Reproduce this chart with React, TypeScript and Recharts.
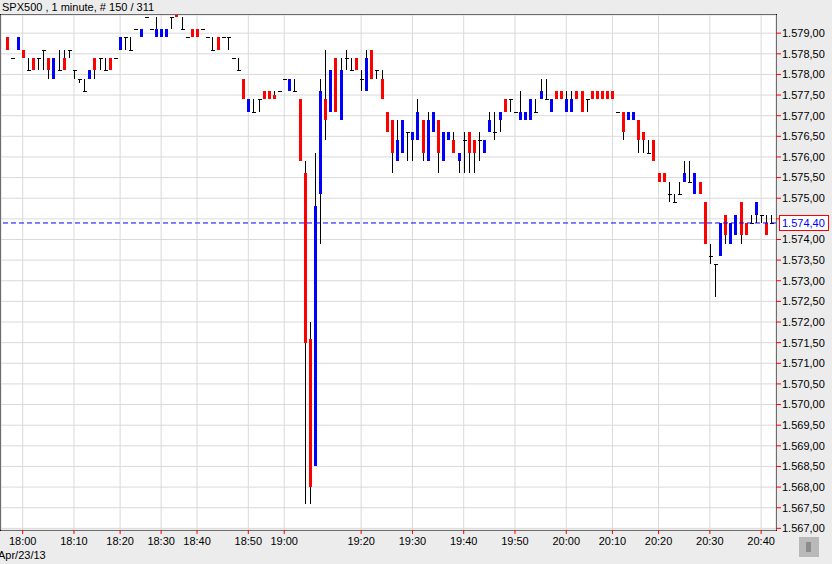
import { Bar, CartesianGrid, ComposedChart, ReferenceLine, XAxis, YAxis } from "recharts";

const FONT = "'Liberation Sans', Arial, sans-serif";

const title = "SPX500 , 1 minute, # 150 / 311";
const dateLabel = "Apr/23/13";
const lastPrice = 1574.4;

// one-minute bars, left to right
const opens = [
  1578.9, 1578.4, 1578.6, 1578.6, 1578.1, 1578.4, 1578.4, 1578.6, 1578.4, 1577.9,
  1578.1, 1578.4, 1578.6, 1578.1, 1577.9, 1577.6, 1577.9, 1578.4, 1578.4, 1578.1,
  1578.4, 1578.4, 1578.6, 1578.9, 1578.6, 1579.1, 1578.9, 1579.4, 1579.1, 1578.9,
  1578.9, 1578.9, 1579.4, 1579.5, 1579.1, 1578.9, 1579.1, 1579.1, 1579.1, 1578.9,
  1578.6, 1578.9, 1578.9, 1578.9, 1578.4, 1578.1, 1577.9, 1577.1, 1577.1, 1577.4,
  1577.6, 1577.6, 1577.5, 1577.6, 1577.9, 1577.6, 1577.6, 1577.4, 1575.6, 1571.6,
  1568.5, 1575.1, 1577.4, 1577.1, 1578.4, 1576.9, 1578.4, 1578.1, 1578.4, 1577.9,
  1577.6, 1578.6, 1578.1, 1577.9, 1577.1, 1576.9, 1575.9, 1576.1, 1576.6, 1576.4,
  1576.4, 1576.9, 1575.9, 1576.6, 1576.9, 1575.9, 1576.4, 1576.4, 1575.9, 1576.4,
  1576.6, 1576.4, 1576.4, 1576.1, 1576.6, 1576.6, 1576.9, 1577.4, 1577.4, 1577.1,
  1576.9, 1576.9, 1576.9, 1577.1, 1577.4, 1577.4, 1577.1, 1577.6, 1577.6, 1577.1,
  1577.1, 1577.6, 1577.6, 1577.4, 1577.6, 1577.6, 1577.6, 1577.6, 1577.6, 1577.1,
  1577.1, 1576.9, 1576.9, 1576.9, 1576.6, 1576.1, 1576.4, 1575.6, 1575.6, 1575.1,
  1574.9, 1575.1, 1575.4, 1575.4, 1575.1, 1575.4, 1574.9, 1573.6, 1573.4, 1573.6,
  1574.6, 1573.9, 1574.1, 1574.9, 1574.4, 1574.4, 1574.6, 1574.6, 1574.4, 1574.4,
];
const highs = [
  1578.9, 1578.4, 1578.9, 1578.6, 1578.4, 1578.4, 1578.4, 1578.6, 1578.4, 1578.4,
  1578.6, 1578.6, 1578.6, 1578.1, 1577.9, 1577.9, 1578.1, 1578.4, 1578.4, 1578.4,
  1578.4, 1578.4, 1578.9, 1578.9, 1578.9, 1579.1, 1579.1, 1579.4, 1579.1, 1579.4,
  1579.1, 1579.1, 1579.4, 1579.5, 1579.4, 1578.9, 1579.1, 1579.1, 1579.1, 1578.9,
  1578.9, 1578.9, 1578.9, 1578.9, 1578.4, 1578.4, 1577.9, 1577.4, 1577.4, 1577.4,
  1577.6, 1577.6, 1577.6, 1577.6, 1577.9, 1577.9, 1577.9, 1577.4, 1575.9, 1572.0,
  1576.1, 1577.9, 1578.6, 1578.1, 1578.4, 1578.4, 1578.6, 1578.4, 1578.4, 1578.1,
  1578.6, 1578.6, 1578.1, 1578.1, 1577.1, 1576.9, 1576.9, 1576.9, 1576.6, 1576.6,
  1577.4, 1576.9, 1577.1, 1577.1, 1576.9, 1576.6, 1576.6, 1576.6, 1576.1, 1576.6,
  1576.6, 1576.4, 1576.6, 1576.4, 1577.1, 1577.1, 1577.1, 1577.4, 1577.4, 1577.1,
  1577.6, 1577.1, 1577.4, 1577.4, 1577.9, 1577.9, 1577.4, 1577.6, 1577.6, 1577.6,
  1577.6, 1577.6, 1577.6, 1577.4, 1577.6, 1577.6, 1577.6, 1577.6, 1577.6, 1577.1,
  1577.1, 1577.1, 1577.1, 1576.9, 1576.6, 1576.4, 1576.4, 1575.6, 1575.6, 1575.4,
  1575.1, 1575.4, 1575.9, 1575.9, 1575.6, 1575.4, 1574.9, 1573.9, 1573.4, 1574.4,
  1574.6, 1574.4, 1574.6, 1574.9, 1574.4, 1574.6, 1574.9, 1574.6, 1574.6, 1574.6,
];
const lows = [
  1578.6, 1578.4, 1578.6, 1578.4, 1578.1, 1578.1, 1578.1, 1578.1, 1577.9, 1577.9,
  1578.1, 1578.1, 1578.4, 1577.9, 1577.8, 1577.6, 1577.9, 1577.9, 1578.1, 1578.1,
  1578.1, 1578.4, 1578.6, 1578.6, 1578.6, 1579.1, 1578.9, 1579.4, 1579.1, 1578.9,
  1578.9, 1578.9, 1579.1, 1579.4, 1579.1, 1578.9, 1578.9, 1578.9, 1579.1, 1578.9,
  1578.6, 1578.6, 1578.9, 1578.6, 1578.4, 1578.1, 1577.4, 1577.1, 1577.1, 1577.1,
  1577.4, 1577.4, 1577.4, 1577.6, 1577.9, 1577.6, 1577.6, 1575.9, 1567.6, 1567.6,
  1568.5, 1573.9, 1576.4, 1577.1, 1577.1, 1576.9, 1578.1, 1578.1, 1578.1, 1577.6,
  1577.6, 1577.9, 1577.9, 1577.4, 1576.6, 1575.6, 1575.9, 1576.1, 1575.9, 1575.9,
  1576.4, 1575.9, 1575.9, 1576.6, 1575.6, 1575.9, 1576.4, 1576.1, 1575.6, 1575.6,
  1575.6, 1575.6, 1575.9, 1576.1, 1576.6, 1576.4, 1576.6, 1577.1, 1577.1, 1577.1,
  1576.9, 1576.9, 1576.9, 1577.1, 1577.4, 1577.4, 1577.1, 1577.4, 1577.4, 1577.1,
  1577.1, 1577.4, 1577.1, 1577.1, 1577.4, 1577.4, 1577.4, 1577.4, 1577.4, 1577.1,
  1576.4, 1576.9, 1576.9, 1576.1, 1576.1, 1576.1, 1575.9, 1575.4, 1575.4, 1574.9,
  1574.9, 1575.1, 1575.4, 1575.4, 1575.1, 1575.1, 1573.9, 1573.4, 1572.6, 1573.6,
  1573.9, 1573.9, 1574.1, 1573.9, 1574.1, 1574.4, 1574.4, 1574.4, 1574.1, 1574.4,
];
const closes = [
  1578.6, 1578.4, 1578.9, 1578.4, 1578.1, 1578.1, 1578.4, 1578.6, 1578.1, 1578.4,
  1578.1, 1578.1, 1578.6, 1578.1, 1577.9, 1577.6, 1578.1, 1578.1, 1578.4, 1578.1,
  1578.1, 1578.4, 1578.9, 1578.9, 1578.6, 1579.1, 1579.1, 1579.4, 1579.1, 1579.1,
  1579.1, 1579.1, 1579.4, 1579.4, 1579.1, 1578.9, 1578.9, 1578.9, 1579.1, 1578.9,
  1578.6, 1578.6, 1578.9, 1578.9, 1578.4, 1578.1, 1577.4, 1577.4, 1577.1, 1577.4,
  1577.4, 1577.4, 1577.4, 1577.6, 1577.9, 1577.9, 1577.6, 1575.9, 1571.5, 1568.0,
  1574.8, 1577.6, 1576.9, 1578.1, 1577.1, 1578.1, 1578.4, 1578.1, 1578.1, 1577.9,
  1578.4, 1577.9, 1578.1, 1577.4, 1576.6, 1576.1, 1576.4, 1576.9, 1576.6, 1576.6,
  1577.1, 1576.1, 1576.9, 1577.1, 1576.1, 1576.6, 1576.6, 1576.1, 1576.1, 1576.4,
  1576.1, 1576.1, 1576.4, 1576.4, 1576.9, 1576.6, 1577.1, 1577.1, 1577.4, 1577.1,
  1577.1, 1577.1, 1577.4, 1577.1, 1577.6, 1577.4, 1577.4, 1577.4, 1577.4, 1577.4,
  1577.4, 1577.4, 1577.1, 1577.4, 1577.4, 1577.4, 1577.4, 1577.4, 1577.4, 1577.1,
  1576.6, 1577.1, 1577.1, 1576.4, 1576.4, 1576.1, 1575.9, 1575.4, 1575.4, 1575.1,
  1574.9, 1575.1, 1575.6, 1575.4, 1575.6, 1575.1, 1573.9, 1573.6, 1573.4, 1574.4,
  1574.1, 1574.4, 1574.6, 1574.1, 1574.1, 1574.4, 1574.9, 1574.6, 1574.1, 1574.4,
];

// bar index of each labelled minute (gaps in trading make these uneven)
const tickBars = [3, 13, 22, 30, 37, 47, 54, 69, 79, 89, 99, 109, 118, 127, 137, 147];
const tickTimes = [
  "18:00", "18:10", "18:20", "18:30", "18:40", "18:50", "19:00", "19:20",
  "19:30", "19:40", "19:50", "20:00", "20:10", "20:20", "20:30", "20:40",
];

const priceTicks = [
  1567, 1567.5, 1568, 1568.5, 1569, 1569.5, 1570, 1570.5, 1571, 1571.5, 1572, 1572.5,
  1573, 1573.5, 1574, 1574.5, 1575, 1575.5, 1576, 1576.5, 1577, 1577.5, 1578, 1578.5, 1579,
];

const X_DOMAIN: [number, number] = [-1.23, 149.9];
const Y_DOMAIN: [number, number] = [1566.96, 1579.44];

const bars = opens.map((o, i) => ({
  i,
  o,
  h: highs[i],
  l: lows[i],
  c: closes[i],
  range: [lows[i], highs[i]],
}));

const fmtPrice = (v: number) => {
  const [whole, dec] = v.toFixed(2).split(".");
  return whole.replace(/\B(?=(\d{3})+(?!\d))/g, ".") + "," + dec;
};

const fmtTime = (v: number) => {
  const k = tickBars.indexOf(v);
  return k >= 0 ? tickTimes[k] : "";
};

function Candle(props: any) {
  const { x, y, width, height, payload } = props;
  if (x == null || y == null) return null;
  const { o, h, l, c } = payload;
  const cx = Math.round(x + width / 2);
  const py = (v: number) => (h === l ? y : y + ((h - v) / (h - l)) * height);
  const top = py(Math.max(o, c));
  const bot = py(Math.min(o, c));
  const color = c > o ? "#0000ff" : "#ff0000";
  return (
    <g shapeRendering="crispEdges">
      {h !== l && (
        <line x1={cx + 0.5} x2={cx + 0.5} y1={py(h)} y2={py(l)} stroke="#000" strokeWidth={1} />
      )}
      {o === c ? (
        <line x1={cx - 1.5} x2={cx + 2.5} y1={Math.round(top) + 0.5} y2={Math.round(top) + 0.5} stroke="#000" />
      ) : (
        <rect x={cx - 1} y={top} width={3} height={Math.max(1, bot - top)} fill={color} />
      )}
    </g>
  );
}

function PriceTag(props: any) {
  const { viewBox } = props;
  if (!viewBox) return null;
  const right = viewBox.x + viewBox.width;
  const yy = Math.round(viewBox.y);
  return (
    <g>
      <rect x={right + 3.5} y={yy - 7.5} width={49} height={15} fill="#fff" stroke="#ff0000" shapeRendering="crispEdges" />
      <text x={right + 6} y={yy} dy="0.36em" fill="#0000ff" fontSize={11} fontFamily={FONT}>
        {fmtPrice(lastPrice)}
      </text>
    </g>
  );
}

export default function App() {
  return (
    <div
      style={{
        position: "absolute",
        left: 0,
        top: 0,
        width: 832,
        height: 564,
        background: "#ececec",
        overflow: "hidden",
        fontFamily: FONT,
      }}
    >
      <div style={{ position: "absolute", left: 2, top: 0, fontSize: 11, lineHeight: "14px", color: "#000" }}>
        {title}
      </div>
      <div
        style={{
          position: "absolute",
          left: 0,
          top: 14,
          width: 777,
          height: 517,
          boxSizing: "border-box",
          border: "1px solid #000",
          background: "#fff",
        }}
      />
      <div style={{ position: "absolute", left: 0, top: 0 }}>
        <ComposedChart width={832} height={564} data={bars} margin={{ top: 15, right: 0, bottom: 0, left: 1 }}>
          <CartesianGrid stroke="#d9d9d9" />
          <XAxis
            type="number"
            dataKey="i"
            domain={X_DOMAIN}
            allowDataOverflow
            ticks={tickBars}
            interval={0}
            tickFormatter={fmtTime}
            height={34}
            axisLine={false}
            tickLine={{ stroke: "#ff0000" }}
            tickSize={4}
            tickMargin={3}
            tick={{ fill: "#000", fontSize: 11, fontFamily: FONT }}
          />
          <YAxis
            orientation="right"
            domain={Y_DOMAIN}
            allowDataOverflow
            ticks={priceTicks}
            interval={0}
            tickFormatter={fmtPrice}
            width={56}
            axisLine={false}
            tickLine={{ stroke: "#ff0000" }}
            tickSize={5}
            tickMargin={1}
            tick={{ fill: "#000", fontSize: 11, fontFamily: FONT }}
          />
          <ReferenceLine y={lastPrice} stroke="#0000ff" strokeDasharray="5 3" />
          <Bar dataKey="range" shape={<Candle />} isAnimationActive={false} />
        </ComposedChart>
      </div>
      {/* second layer so the last-price tag sits above the price labels */}
      <div style={{ position: "absolute", left: 0, top: 0, pointerEvents: "none" }}>
        <ComposedChart width={832} height={564} data={bars} margin={{ top: 15, right: 56, bottom: 34, left: 1 }}>
          <XAxis type="number" dataKey="i" domain={X_DOMAIN} allowDataOverflow hide />
          <YAxis domain={Y_DOMAIN} allowDataOverflow hide />
          <ReferenceLine y={lastPrice} stroke="none" label={<PriceTag />} />
        </ComposedChart>
      </div>
      <div style={{ position: "absolute", left: -2, top: 548, fontSize: 11, lineHeight: "14px", color: "#000" }}>
        {dateLabel}
      </div>
      <div
        style={{
          position: "absolute",
          left: 799,
          top: 537,
          width: 20,
          height: 20,
          background: "#b9b9b9",
        }}
      >
        <div style={{ position: "absolute", left: 7, top: 5, width: 5, height: 10, background: "#8c8c8c" }} />
      </div>
    </div>
  );
}
